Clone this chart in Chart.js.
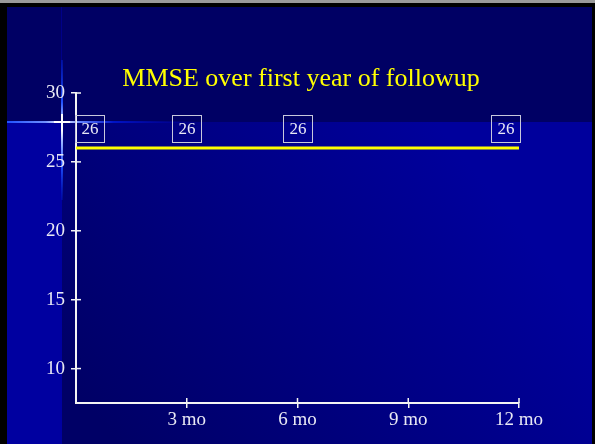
<!DOCTYPE html>
<html>
<head>
<meta charset="utf-8">
<script src="https://cdn.jsdelivr.net/npm/chart.js@4/dist/chart.umd.min.js"></script>
<style>
  html, body { margin: 0; padding: 0; background: #000064; overflow: hidden; }
  canvas { display: block; }
</style>
</head>
<body>
<canvas id="c" width="595" height="444"></canvas>
<script>
// MMSE score at each follow-up visit (months since baseline)
const months = [0, 3, 6, 12];
const mmse = [26, 26, 26, 26];

const xTicks = [3, 6, 9, 12];
const xTickLabels = ['3 mo', '6 mo', '9 mo', '12 mo'];
const yTicks = [10, 15, 20, 25, 30];
const titleText = 'MMSE over first year of followup';

const serif = '"Liberation Serif", "Times New Roman", Times, serif';
const inkColor = '#e8e8f4';
const axisColor = '#f4f4f4';

// Slide backdrop: dark band on top, blue panel below, and the light flare at the corner
const slideBackground = {
  id: 'slideBackground',
  beforeDraw(chart) {
    const ctx = chart.ctx, W = chart.width, H = chart.height;
    const bandY = 122, stripX = 62;
    ctx.save();
    ctx.fillStyle = '#000064';
    ctx.fillRect(0, 0, W, H);

    const g = ctx.createLinearGradient(100, 420, 450, 140);
    g.addColorStop(0, '#000066');
    g.addColorStop(1, '#00009c');
    ctx.fillStyle = g;
    ctx.fillRect(stripX, bandY, W - stripX, H - bandY);

    ctx.fillStyle = '#0000a0';
    ctx.fillRect(0, bandY, stripX, H - bandY);

    ctx.fillStyle = '#000088';
    ctx.fillRect(stripX - 1, 0, 1, bandY);

    // horizontal flare
    const hg = ctx.createLinearGradient(7, 0, 200, 0);
    hg.addColorStop(0, '#1e50ff');
    hg.addColorStop(0.2, '#7090ff');
    hg.addColorStop(0.285, '#ffffff');
    hg.addColorStop(0.38, '#6080ff');
    hg.addColorStop(0.55, '#0014c8');
    hg.addColorStop(1, 'rgba(0,0,170,0)');
    ctx.fillStyle = hg;
    ctx.fillRect(7, bandY - 1, 193, 2);

    // vertical flare
    const vg = ctx.createLinearGradient(0, 60, 0, 200);
    vg.addColorStop(0, 'rgba(0,30,200,0.5)');
    vg.addColorStop(0.3, '#2050ff');
    vg.addColorStop(0.44, '#c0d0ff');
    vg.addColorStop(0.5, '#ffffff');
    vg.addColorStop(0.58, '#a0b8ff');
    vg.addColorStop(0.75, '#2050ff');
    vg.addColorStop(1, 'rgba(0,30,200,0.3)');
    ctx.fillStyle = vg;
    ctx.fillRect(stripX - 1, 60, 2, 140);

    // white core of the flare
    ctx.fillStyle = '#ffffff';
    ctx.fillRect(stripX - 8, bandY - 1, 16, 2);
    ctx.fillRect(stripX - 1, bandY - 8, 2, 16);

    // frame
    ctx.fillStyle = '#000000';
    ctx.fillRect(0, 0, 7, H);
    ctx.fillRect(0, 0, W, 7);
    ctx.fillRect(W - 3, 0, 3, H);
    ctx.fillStyle = '#9a9a9a';
    ctx.fillRect(0, 0, W, 3);
    ctx.restore();
  }
};

// Slide heading
const slideTitle = {
  id: 'slideTitle',
  afterDraw(chart) {
    const ctx = chart.ctx;
    ctx.save();
    ctx.font = '26px ' + serif;
    ctx.fillStyle = '#ffff00';
    ctx.textAlign = 'center';
    ctx.textBaseline = 'alphabetic';
    ctx.fillText(titleText, 301, 86);
    ctx.restore();
  }
};

// Tick marks that cross the axis lines
const crossTicks = {
  id: 'crossTicks',
  afterDraw(chart) {
    const { left, bottom } = chart.chartArea;
    const xs = chart.scales.x, ys = chart.scales.y;
    const ctx = chart.ctx;
    ctx.save();
    ctx.strokeStyle = axisColor;
    ctx.lineWidth = 1.5;
    ys.ticks.forEach(t => {
      const y = ys.getPixelForValue(t.value);
      ctx.beginPath(); ctx.moveTo(left, y); ctx.lineTo(left + 5, y); ctx.stroke();
    });
    xs.ticks.forEach(t => {
      const x = xs.getPixelForValue(t.value);
      ctx.beginPath(); ctx.moveTo(x, bottom); ctx.lineTo(x, bottom - 5); ctx.stroke();
    });
    ctx.restore();
  }
};

// Boxed value labels above each visit, kept inside the plot area
const valueBoxes = {
  id: 'valueBoxes',
  afterDatasetsDraw(chart) {
    const meta = chart.getDatasetMeta(0);
    const { left, right } = chart.chartArea;
    const ctx = chart.ctx;
    ctx.save();
    ctx.font = '17px ' + serif;
    ctx.textAlign = 'center';
    ctx.textBaseline = 'middle';
    meta.data.forEach((pt, i) => {
      const label = String(mmse[i]);
      const w = Math.round(ctx.measureText(label).width + 12);
      const h = 27;
      const cx = Math.min(Math.max(pt.x, left - 1 + w / 2), right + 1 - w / 2);
      const bottom = pt.y - 6;
      const bx = Math.round(cx - w / 2) + 0.5;
      const by = Math.round(bottom - h) + 0.5;
      ctx.strokeStyle = '#c8c8dc';
      ctx.lineWidth = 1;
      ctx.strokeRect(bx, by, w, h);
      ctx.fillStyle = inkColor;
      ctx.fillText(label, bx + w / 2, by + h / 2 + 1);
    });
    ctx.restore();
  }
};

new Chart(document.getElementById('c'), {
  type: 'line',
  data: {
    datasets: [{
      label: 'MMSE',
      data: months.map((m, i) => ({ x: m, y: mmse[i] })),
      borderColor: '#ffff00',
      borderWidth: 3,
      pointRadius: 0,
      fill: false,
      tension: 0
    }]
  },
  options: {
    responsive: false,
    devicePixelRatio: 1,
    animation: false,
    layout: { padding: { top: 93, left: 36, right: 76, bottom: 6 } },
    plugins: {
      legend: { display: false },
      tooltip: { enabled: false },
      title: { display: false }
    },
    scales: {
      x: {
        type: 'linear',
        min: 0,
        max: 12,
        afterBuildTicks: s => { s.ticks = xTicks.map(v => ({ value: v })); },
        afterFit: s => { s.height = 35; },
        ticks: {
          callback: v => xTickLabels[xTicks.indexOf(v)] ?? '',
          color: inkColor,
          font: { family: serif, size: 19 },
          padding: 1,
          maxRotation: 0,
          autoSkip: false
        },
        grid: { drawOnChartArea: false, drawTicks: true, tickLength: 5, color: axisColor, lineWidth: 1.5 },
        border: { display: true, color: axisColor, width: 2 }
      },
      y: {
        type: 'linear',
        min: 7.5,
        max: 30,
        afterBuildTicks: s => { s.ticks = yTicks.map(v => ({ value: v })); },
        afterFit: s => { s.width = 40; },
        ticks: {
          color: inkColor,
          font: { family: serif, size: 19 },
          padding: 6,
          autoSkip: false
        },
        grid: { drawOnChartArea: false, drawTicks: true, tickLength: 5, color: axisColor, lineWidth: 1.5 },
        border: { display: true, color: axisColor, width: 2 }
      }
    }
  },
  plugins: [slideBackground, valueBoxes, crossTicks, slideTitle]
});
</script>
</body>
</html>
